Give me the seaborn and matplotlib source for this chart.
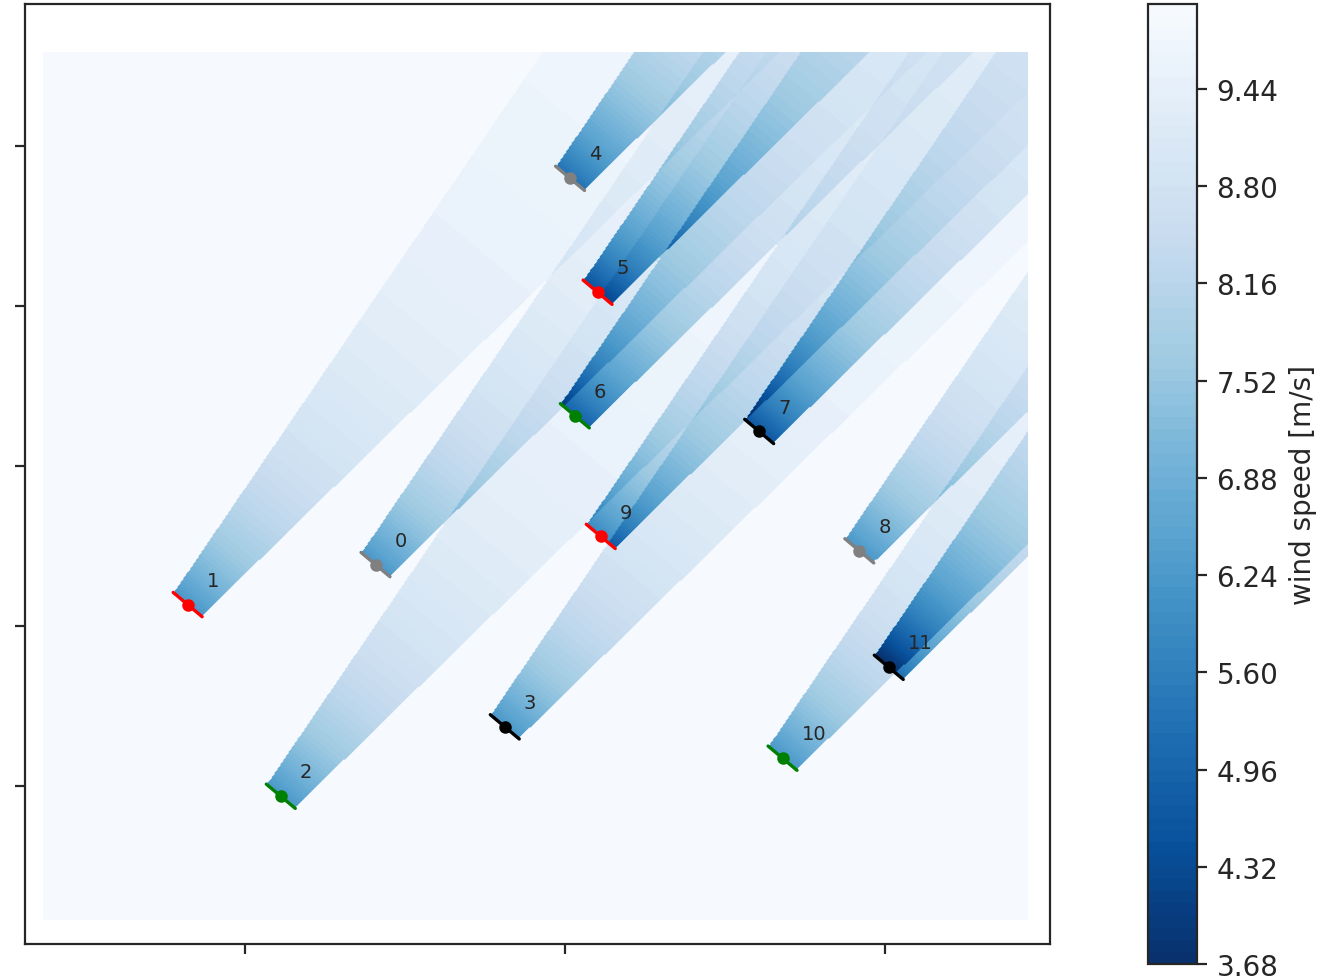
import numpy as np
import matplotlib
matplotlib.use("Agg")
import matplotlib.pyplot as plt
import seaborn as sns

# wind turbine layout [m] and types
turbine_x = [408, -179, 112, 812, 1016, 1102, 1031, 1607, 1920, 1112, 1680, 2012]
turbine_y = [692, 567, -32, 185, 1899, 1543, 1157, 1108, 735, 780, 87, 371]
turbine_type = [0, 1, 2, 3, 0, 1, 2, 3, 0, 1, 2, 3]
type_colors = ["gray", "red", "green", "black"]
rotor_diameter = 118.0

# inflow and wake settings
ws_free = 10.0
wind_dir = 220.0
wake_k = 0.1        # wake expansion
decay_k = 0.075     # deficit recovery
ct_ws = [3.0, 9.4, 10.0, 12.0]
ct_curve = [0.74, 0.73, 0.62, 0.45]

# flow map extent and colour levels
map_x = [-628, 2447]
map_y = [-416, 2291]
ws_min, ws_max = 3.68, 10.0
x_ticks = [0, 1000, 2000]
y_ticks = [0, 500, 1000, 1500, 2000]


def overlap_fraction(d, r, rw):
    # share of rotor disc (radius r) covered by wake disc (radius rw)
    if d >= r + rw:
        return 0.0
    if d <= rw - r:
        return 1.0
    a1 = r**2 * np.arccos((d**2 + r**2 - rw**2) / (2 * d * r))
    a2 = rw**2 * np.arccos((d**2 + rw**2 - r**2) / (2 * d * rw))
    a3 = 0.5 * np.sqrt((-d + r + rw) * (d + r - rw) * (d - r + rw) * (d + r + rw))
    return (a1 + a2 - a3) / (np.pi * r**2)


def noj_wake():
    R = rotor_diameter / 2
    th = np.deg2rad(wind_dir - 180)
    u = np.array([np.sin(th), np.cos(th)])
    c = np.array([np.cos(th), -np.sin(th)])
    xs = np.array(turbine_x, float)
    ys = np.array(turbine_y, float)
    order = np.argsort(xs * u[0] + ys * u[1])
    deficit0 = np.zeros(len(xs))
    for i in order:
        d_avg = 0.0
        for j in order:
            if deficit0[j] == 0:
                continue
            dx, dy = xs[i] - xs[j], ys[i] - ys[j]
            dw = dx * u[0] + dy * u[1]
            if dw <= 0:
                continue
            cw = abs(dx * c[0] + dy * c[1])
            rw = R + wake_k * dw
            d_avg += deficit0[j] * (R / (R + decay_k * dw)) ** 2 * overlap_fraction(cw, R, rw)
        ct = np.interp(ws_free - d_avg, ct_ws, ct_curve)
        deficit0[i] = ws_free * (1 - np.sqrt(1 - ct))

    X, Y = np.meshgrid(np.linspace(*map_x, 700), np.linspace(*map_y, 620))
    deficit = np.zeros_like(X)
    for j in range(len(xs)):
        dw = (X - xs[j]) * u[0] + (Y - ys[j]) * u[1]
        cw = (X - xs[j]) * c[0] + (Y - ys[j]) * c[1]
        dwp = np.clip(dw, 0, None)
        inside = (dw > 0) & (np.abs(cw) < R + wake_k * dwp)
        deficit += np.where(inside, deficit0[j] * (R / (R + decay_k * dwp)) ** 2, 0)
    return X, Y, np.clip(ws_free - deficit, ws_min, ws_max), th


sns.set_style("ticks")
plt.rcParams["font.family"] = ["DejaVu Sans"]

X, Y, WS, th = noj_wake()
levels = np.linspace(ws_min, ws_max, 80)
cmap = sns.color_palette("Blues_r", as_cmap=True)

fig = plt.figure(figsize=(6.635, 4.895), dpi=200)
ax = fig.add_axes([0.0188, 0.0347, 0.7724, 0.9602])
cax = fig.add_axes([0.8651, 0.0143, 0.0369, 0.9806])

cs = ax.contourf(X, Y, WS, levels=levels, cmap=cmap)

# rotors, hub markers and turbine numbers
R = rotor_diameter / 2
for i, (x, y, t) in enumerate(zip(turbine_x, turbine_y, turbine_type)):
    col = type_colors[t]
    ax.plot([x - R * np.cos(th), x + R * np.cos(th)],
            [y + R * np.sin(th), y - R * np.sin(th)], color=col, lw=1.2)
    ax.plot(x, y, "o", color=col, ms=3.5)
    ax.annotate(str(i), (x + R, y + R), fontsize=7)

ax.set_xlim(-687.5, 2515.6)
ax.set_ylim(-493.75, 2443.75)
ax.set_xticks(x_ticks)
ax.set_yticks(y_ticks)
ax.set_xticklabels([])
ax.set_yticklabels([])

cb = fig.colorbar(cs, cax=cax)
cb.set_ticks(levels[::8])
cb.set_ticklabels([f"{v:.2f}" for v in levels[::8]])
cb.set_label("wind speed [m/s]")

fig.savefig("out.png", dpi=200)
